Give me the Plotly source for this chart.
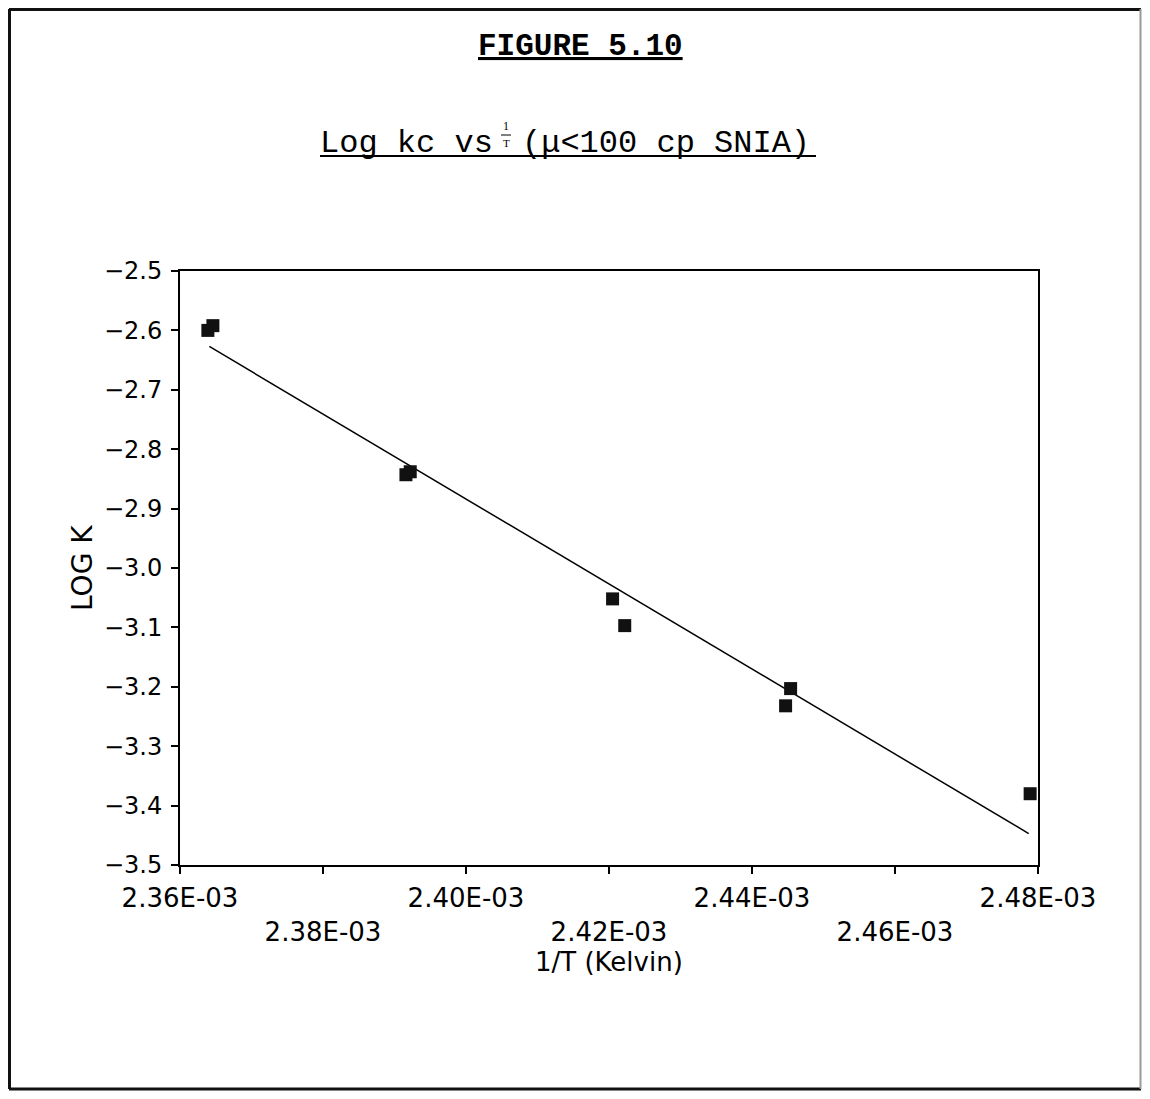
import plotly.graph_objects as go

# ---------------- data ----------------
inv_T = [2.3639e-3, 2.3646e-3, 2.3916e-3, 2.3922e-3, 2.4205e-3, 2.4222e-3, 2.4454e-3, 2.4447e-3, 2.4789e-3]
log_k = [-2.600, -2.592, -2.843, -2.838, -3.052, -3.097, -3.203, -3.232, -3.380]
fit_x = [2.3641e-3, 2.4787e-3]
fit_y = [-2.627, -3.447]
x_tick_vals = [2.36e-3, 2.38e-3, 2.40e-3, 2.42e-3, 2.44e-3, 2.46e-3, 2.48e-3]
x_tick_text = ["2.36E-03", "<br>2.38E-03", "2.40E-03", "<br>2.42E-03", "2.44E-03", "<br>2.46E-03", "2.48E-03"]
y_tick_vals = [-2.5, -2.6, -2.7, -2.8, -2.9, -3.0, -3.1, -3.2, -3.3, -3.4, -3.5]

# ---------------- geometry (page pixels) ----------------
OFF = 8                     # browser body margin
FW, FH = 1150 - 2 * OFF, 1099 - 2 * OFF
PL, PT, PW, PH = 180, 271, 858, 594


def xp(px):
    return (px - PL) / PW


def yp(py):
    return (PT + PH - py) / PH


MONO = "Liberation Mono"
SANS = "DejaVu Sans"

fig = go.Figure()
fig.add_trace(go.Scatter(x=fit_x, y=fit_y, mode="lines",
                         line=dict(color="black", width=1.5), showlegend=False))
fig.add_trace(go.Scatter(x=inv_T, y=log_k, mode="markers",
                         marker=dict(symbol="square", size=13, color="#111111"),
                         showlegend=False))

fig.update_layout(
    width=FW, height=FH,
    margin=dict(l=PL - OFF, t=PT - OFF, r=FW - (PL - OFF) - PW, b=FH - (PT - OFF) - PH, pad=0),
    paper_bgcolor="white", plot_bgcolor="white",
    xaxis=dict(range=[2.36e-3, 2.48e-3], tickvals=x_tick_vals, ticktext=x_tick_text,
               ticks="outside", ticklen=7, tickwidth=1.5, tickcolor="black",
               showline=True, linecolor="black", linewidth=2, mirror=True,
               showgrid=False, zeroline=False,
               tickfont=dict(family=SANS, size=26, color="black"), ticklabelstandoff=2),
    yaxis=dict(range=[-3.5, -2.5], tickvals=y_tick_vals, tickformat=".1f",
               ticks="outside", ticklen=7, tickwidth=1.5, tickcolor="black",
               showline=True, linecolor="black", linewidth=2, mirror=True,
               showgrid=False, zeroline=False,
               tickfont=dict(family=SANS, size=24, color="black"), ticklabelstandoff=4),
)

ann = [
    dict(text="<b><u>FIGURE 5.10</u></b>", x=xp(580), y=yp(47), xanchor="center",
         font=dict(family=MONO, size=31, color="black")),
    dict(text="Log kc vs", x=xp(494), y=yp(143), xanchor="right",
         font=dict(family=MONO, size=32, color="black")),
    dict(text="(μ&lt;100 cp SNIA)", x=xp(521), y=yp(143), xanchor="left",
         font=dict(family=MONO, size=32, color="black")),
    dict(text="1", x=xp(506), y=yp(126), xanchor="center",
         font=dict(family="Liberation Serif", size=12, color="black")),
    dict(text="T", x=xp(506), y=yp(143), xanchor="center",
         font=dict(family="Liberation Serif", size=11, color="black")),
    dict(text="1/T (Kelvin)", x=xp(609), y=yp(962), xanchor="center",
         font=dict(family=SANS, size=26, color="black")),
    dict(text="LOG K", x=xp(82), y=yp(568), xanchor="center", textangle=-90,
         font=dict(family=SANS, size=28, color="black")),
]
for a in ann:
    fig.add_annotation(xref="paper", yref="paper", showarrow=False,
                       yanchor="middle", borderpad=0, **a)

# underline, fraction bar and outer frame
shapes = [
    dict(x0=xp(320), x1=xp(816), y0=yp(156), y1=yp(156), line=dict(color="black", width=2)),
    dict(x0=xp(501), x1=xp(511), y0=yp(135), y1=yp(135), line=dict(color="black", width=1)),
    dict(x0=xp(OFF + 1.5), x1=xp(OFF + 1.5), y0=yp(OFF + 1), y1=yp(FH + OFF - 2), line=dict(color="#111", width=3)),
    dict(x0=xp(OFF + 1), x1=xp(FW + OFF - 1), y0=yp(OFF + 1.5), y1=yp(OFF + 1.5), line=dict(color="#111", width=3)),
    dict(x0=xp(OFF + 1), x1=xp(FW + OFF - 1), y0=yp(FH + OFF - 2), y1=yp(FH + OFF - 2), line=dict(color="#111", width=3)),
    dict(x0=xp(FW + OFF - 1.5), x1=xp(FW + OFF - 1.5), y0=yp(OFF + 1), y1=yp(FH + OFF - 2), line=dict(color="#999", width=2)),
]
for s in shapes:
    fig.add_shape(type="line", xref="paper", yref="paper", **s)

fig.write_html("out.html")
